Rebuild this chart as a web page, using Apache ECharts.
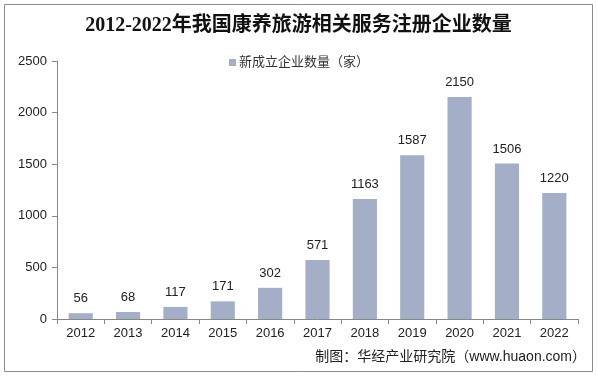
<!DOCTYPE html>
<html>
<head>
<meta charset="utf-8">
<script src="https://cdn.jsdelivr.net/npm/echarts@6/dist/echarts.min.js"></script>
<style>
  html, body { margin: 0; padding: 0; background: #fff; }
  #main { width: 597px; height: 377px; }
</style>
</head>
<body>
<div id="main"></div>
<script>
var years = ['2012','2013','2014','2015','2016','2017','2018','2019','2020','2021','2022'];
var counts = [56, 68, 117, 171, 302, 571, 1163, 1587, 2150, 1506, 1220];
var yTicks = [0, 500, 1000, 1500, 2000, 2500];

var chart = echarts.init(document.getElementById('main'));
var font = 'Arial, "Liberation Sans", "Noto Sans CJK SC", sans-serif';

chart.setOption({
  backgroundColor: '#fff',
  animation: false,
  title: {
    text: '2012-2022年我国康养旅游相关服务注册企业数量',
    left: 'center',
    top: 11,
    textStyle: { fontSize: 20, fontWeight: 'bold', color: '#111', fontFamily: '"Liberation Serif", "Noto Sans CJK SC", serif' }
  },
  legend: {
    data: ['新成立企业数量（家）'],
    top: 51,
    left: 224,
    itemWidth: 7,
    itemHeight: 7,
    itemGap: 4,
    icon: 'rect',
    textStyle: { fontSize: 13, color: '#333', fontFamily: font, padding: [0, 0, 0, -2] }
  },
  graphic: [
    { type: 'rect', shape: { x: 4.5, y: 4.5, width: 588, height: 367 }, style: { fill: 'none', stroke: '#8c8c8c', lineWidth: 1 }, silent: true },
    { type: 'text', right: 11, top: 350, style: { text: '制图：华经产业研究院（www.huaon.com）', font: '14px ' + font, fill: '#222' } }
  ],
  grid: { left: 57, right: 19, top: 61, bottom: 58 },
  xAxis: {
    type: 'category',
    data: years,
    axisLine: { lineStyle: { color: '#888' } },
    axisTick: { show: true, alignWithLabel: false, length: 5, lineStyle: { color: '#888' } },
    axisLabel: { fontSize: 13, color: '#222', margin: 8, fontFamily: font }
  },
  yAxis: {
    type: 'value',
    min: yTicks[0],
    max: yTicks[yTicks.length - 1],
    interval: 500,
    splitLine: { show: false },
    axisLine: { show: true, lineStyle: { color: '#888' } },
    axisTick: { show: true, inside: false, length: 5, lineStyle: { color: '#888' } },
    axisLabel: { fontSize: 13, color: '#222', margin: 10, fontFamily: font, formatter: function (v) { return String(v); } }
  },
  series: [{
    name: '新成立企业数量（家）',
    type: 'bar',
    data: counts,
    barWidth: '51%',
    itemStyle: { color: '#a4afc7' },
    label: { show: true, position: 'top', distance: 8, fontSize: 13, color: '#222', fontFamily: font }
  }]
});
</script>
</body>
</html>
